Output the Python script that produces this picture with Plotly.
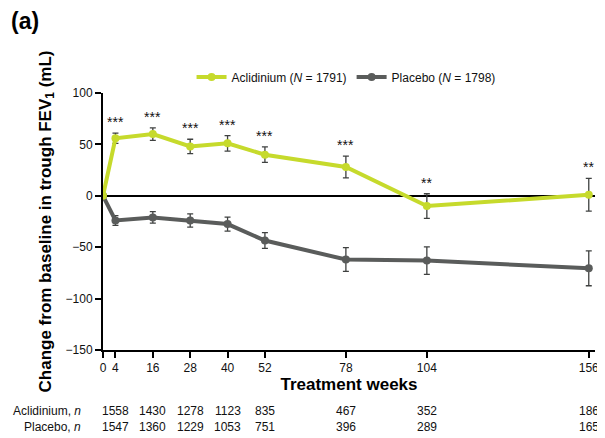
import plotly.graph_objects as go

weeks = [0, 4, 16, 28, 40, 52, 78, 104, 156]
acl_mean = [0, 56, 60, 48, 51, 40, 28, -10, 1]
acl_err = [0, 5, 6, 7, 7.5, 7.5, 10.5, 12, 16]
pla_mean = [0, -24, -21, -24, -27.5, -43.5, -62, -63, -70.5]
pla_err = [0, 4.8, 5.6, 6.5, 6.8, 7.7, 11.5, 13.4, 17]
signif = ["", "***", "***", "***", "***", "***", "***", "**", "**"]
acl_n = ["", "1558", "1430", "1278", "1123", "835", "467", "352", "186"]
pla_n = ["", "1547", "1360", "1229", "1053", "751", "396", "289", "165"]

GREEN = "#c6da2c"
GRAY = "#5a5c5b"
ERR = "#3f4140"
FONT = "Liberation Sans, Arial, sans-serif"

fig = go.Figure()
fig.add_trace(go.Scatter(
    x=weeks, y=pla_mean, mode="lines+markers", name="Placebo (<i>N</i> = 1798)",
    line=dict(color=GRAY, width=4), marker=dict(color=GRAY, size=8),
    error_y=dict(type="data", array=pla_err, visible=True, color=ERR, thickness=1.3, width=3),
    legendrank=2,
))
fig.add_trace(go.Scatter(
    x=weeks, y=acl_mean, mode="lines+markers", name="Aclidinium (<i>N</i> = 1791)",
    line=dict(color=GREEN, width=4), marker=dict(color=GREEN, size=8),
    error_y=dict(type="data", array=acl_err, visible=True, color=ERR, thickness=1.3, width=3),
    legendrank=1,
))

ann = []
for w, m, e, s in zip(weeks, acl_mean, acl_err, signif):
    if s:
        ann.append(dict(x=w, y=m + e, xref="x", yref="y", text=s, showarrow=False,
                        xanchor="center", yanchor="bottom", yshift=1,
                        font=dict(size=14, color="#111", family=FONT)))
for w, a, p in zip(weeks, acl_n, pla_n):
    if a:
        ann.append(dict(x=w, y=-0.237, xref="x", yref="paper", text=a, showarrow=False,
                        xanchor="center", yanchor="middle", font=dict(size=12, color="#111", family=FONT)))
        ann.append(dict(x=w, y=-0.300, xref="x", yref="paper", text=p, showarrow=False,
                        xanchor="center", yanchor="middle", font=dict(size=12, color="#111", family=FONT)))
ann.append(dict(x=-0.04, y=-0.237, xref="paper", yref="paper", text="Aclidinium, <i>n</i>",
                showarrow=False, xanchor="right", yanchor="middle",
                font=dict(size=12, color="#111", family=FONT)))
ann.append(dict(x=-0.04, y=-0.300, xref="paper", yref="paper", text="Placebo, <i>n</i>",
                showarrow=False, xanchor="right", yanchor="middle",
                font=dict(size=12, color="#111", family=FONT)))
ann.append(dict(x=-0.1915, y=1.34, xref="paper", yref="paper", text="<b>(a)</b>",
                showarrow=False, xanchor="left", yanchor="top",
                font=dict(size=23, color="#000", family=FONT)))

# page body has an 8px margin, so the figure is sized to fit the 605x438 window
fig.update_layout(
    width=597, height=430,
    margin=dict(l=95, r=6, t=85, b=88),
    plot_bgcolor="white", paper_bgcolor="white",
    font=dict(family=FONT, color="#111", size=12),
    showlegend=True,
    legend=dict(orientation="h", x=0.494, y=1.062, xanchor="center", yanchor="middle",
                font=dict(size=12, family=FONT), itemwidth=30, bgcolor="rgba(0,0,0,0)"),
    annotations=ann,
    xaxis=dict(range=[0, 158], tickvals=weeks, ticktext=[str(w) for w in weeks],
               showgrid=False, zeroline=False, showline=True, linecolor="black", linewidth=2,
               ticks="outside", ticklen=6, tickwidth=1.5, tickcolor="black",
               tickfont=dict(size=12, family=FONT),
               title=dict(text="<b>Treatment weeks</b>", font=dict(size=17, family=FONT, color="#000"),
                          standoff=2)),
    yaxis=dict(range=[-150, 100], tickvals=[-150, -100, -50, 0, 50, 100],
               showgrid=False, zeroline=True, zerolinecolor="black", zerolinewidth=1.5,
               showline=True, linecolor="black", linewidth=2,
               ticks="outside", ticklen=6, tickwidth=1.5, tickcolor="black",
               tickfont=dict(size=12, family=FONT),
               title=dict(text="<b>Change from baseline in trough FEV<sub>1</sub> (mL)</b>",
                          font=dict(size=17, family=FONT, color="#000"), standoff=10)),
)

fig.write_html("out.html")
